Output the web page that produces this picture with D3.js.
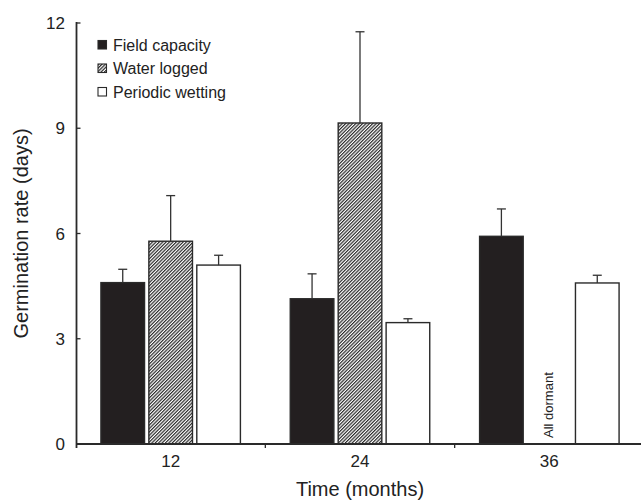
<!DOCTYPE html>
<html>
<head>
<meta charset="utf-8">
<script src="https://cdn.jsdelivr.net/npm/d3@7"></script>
<style>
    body { margin: 0; background: #fff; }
    text { font-family: "Liberation Sans", Arial, Helvetica, sans-serif; fill: #222; }
</style>
</head>
<body>
<div id="chart-area"></div>
<script>
// months
const categories = ["12", "24", "36"];
const seriesNames = ["Field capacity", "Water logged", "Periodic wetting"];

const fieldCapacity = [4.6, 4.14, 5.92];
const fieldCapacityErr = [0.38, 0.71, 0.78];
const waterLogged = [5.78, 9.15, null];   // all dormant at 36
const waterLoggedErr = [1.3, 2.6, null];
const periodicWetting = [5.1, 3.46, 4.59];
const periodicWettingErr = [0.28, 0.11, 0.22];

const yTicks = [0, 3, 6, 9, 12];

const values = [fieldCapacity, waterLogged, periodicWetting];
const errors = [fieldCapacityErr, waterLoggedErr, periodicWettingErr];

const data = [];
categories.forEach((c, i) => {
    seriesNames.forEach((s, j) => {
        data.push({ cat: c, series: s, value: values[j][i], err: errors[j][i] });
    });
});

const width = 641, height = 500;

const svg = d3.select("#chart-area").append("svg")
    .attr("width", width)
    .attr("height", height);

const defs = svg.append("defs");
const hatch = defs.append("pattern")
    .attr("id", "hatch")
    .attr("patternUnits", "userSpaceOnUse")
    .attr("width", 2.4)
    .attr("height", 2.4)
    .attr("patternTransform", "rotate(45)");
hatch.append("rect")
    .attr("width", 2.4)
    .attr("height", 2.4)
    .attr("fill", "#fff");
hatch.append("line")
    .attr("x1", 0.6).attr("y1", 0)
    .attr("x2", 0.6).attr("y2", 2.4)
    .attr("stroke", "#2a2a2a")
    .attr("stroke-width", 1.2);

const fills = {
    "Field capacity": "#231f20",
    "Water logged": "url(#hatch)",
    "Periodic wetting": "#fff"
};

const x0 = d3.scaleBand()
    .domain(categories)
    .range([76, 644])
    .padding(0);

const x1 = d3.scaleBand()
    .domain(seriesNames)
    .range([0, x0.bandwidth()])
    .paddingInner(0.09)
    .paddingOuter(0.52);

const y = d3.scaleLinear()
    .domain([0, 12])
    .range([444, 23]);

// bars
const bars = data.filter((d) => d.value != null);

svg.selectAll("rect.bar")
    .data(bars)
    .enter()
    .append("rect")
    .attr("class", "bar")
    .attr("x", (d) => x0(d.cat) + x1(d.series))
    .attr("y", (d) => y(d.value))
    .attr("width", x1.bandwidth())
    .attr("height", (d) => y(0) - y(d.value))
    .attr("fill", (d) => fills[d.series])
    .attr("stroke", "#2a2a2a")
    .attr("stroke-width", 1.4);

// error bars (upper only)
const errG = svg.selectAll("g.err")
    .data(bars)
    .enter()
    .append("g")
    .attr("class", "err")
    .attr("stroke", "#333")
    .attr("stroke-width", 1.3);

errG.append("line")
    .attr("x1", (d) => x0(d.cat) + x1(d.series) + x1.bandwidth() / 2)
    .attr("x2", (d) => x0(d.cat) + x1(d.series) + x1.bandwidth() / 2)
    .attr("y1", (d) => y(d.value))
    .attr("y2", (d) => y(d.value + d.err));

errG.append("line")
    .attr("x1", (d) => x0(d.cat) + x1(d.series) + x1.bandwidth() / 2 - 4.5)
    .attr("x2", (d) => x0(d.cat) + x1(d.series) + x1.bandwidth() / 2 + 4.5)
    .attr("y1", (d) => y(d.value + d.err))
    .attr("y2", (d) => y(d.value + d.err));

// "All dormant" note where water logged is missing
data.filter((d) => d.value == null).forEach((d) => {
    const cx = x0(d.cat) + x1(d.series) + x1.bandwidth() / 2;
    svg.append("text")
        .attr("transform", `translate(${cx + 4},${y(0) - 6}) rotate(-90)`)
        .attr("font-size", 13)
        .text("All dormant");
});

// axes
const axisColor = "#2a2a2a";

svg.append("line")
    .attr("x1", 76.5).attr("x2", 76.5)
    .attr("y1", y(12) - 1).attr("y2", y(0) + 4)
    .attr("stroke", axisColor)
    .attr("stroke-width", 1.8);

svg.append("line")
    .attr("x1", 76).attr("x2", width)
    .attr("y1", y(0)).attr("y2", y(0))
    .attr("stroke", axisColor)
    .attr("stroke-width", 1.8);

// y ticks (inward)
svg.selectAll("line.ytick")
    .data(yTicks)
    .enter()
    .append("line")
    .attr("class", "ytick")
    .attr("x1", 76.5).attr("x2", 80.5)
    .attr("y1", (d) => y(d)).attr("y2", (d) => y(d))
    .attr("stroke", axisColor)
    .attr("stroke-width", 1.3);

svg.selectAll("text.ylab")
    .data(yTicks)
    .enter()
    .append("text")
    .attr("class", "ylab")
    .attr("x", 65)
    .attr("y", (d) => y(d) + 6)
    .attr("text-anchor", "end")
    .attr("font-size", 17)
    .text((d) => d);

// x ticks at group boundaries (outward)
const boundaries = categories.slice(1).map((c) => x0(c));
svg.selectAll("line.xtick")
    .data(boundaries)
    .enter()
    .append("line")
    .attr("class", "xtick")
    .attr("x1", (d) => d).attr("x2", (d) => d)
    .attr("y1", y(0)).attr("y2", y(0) + 4)
    .attr("stroke", axisColor)
    .attr("stroke-width", 1.3);

svg.selectAll("text.xlab")
    .data(categories)
    .enter()
    .append("text")
    .attr("class", "xlab")
    .attr("x", (d) => x0(d) + x0.bandwidth() / 2)
    .attr("y", 467)
    .attr("text-anchor", "middle")
    .attr("font-size", 17)
    .text((d) => d);

// axis titles
svg.append("text")
    .attr("x", 360)
    .attr("y", 496)
    .attr("text-anchor", "middle")
    .attr("font-size", 20)
    .text("Time (months)");

svg.append("text")
    .attr("transform", `translate(28,${(y(0) + y(12)) / 2}) rotate(-90)`)
    .attr("text-anchor", "middle")
    .attr("font-size", 20)
    .text("Germination rate (days)");

// legend
const legend = svg.selectAll("g.legend")
    .data(seriesNames)
    .enter()
    .append("g")
    .attr("class", "legend")
    .attr("transform", (d, i) => `translate(98,${40.5 + i * 23.5})`);

legend.append("rect")
    .attr("width", 8.5)
    .attr("height", 8.5)
    .attr("fill", (d) => fills[d])
    .attr("stroke", "#2a2a2a")
    .attr("stroke-width", 1.1);

legend.append("text")
    .attr("x", 15)
    .attr("y", 10)
    .attr("font-size", 16)
    .text((d) => d);
</script>
</body>
</html>
